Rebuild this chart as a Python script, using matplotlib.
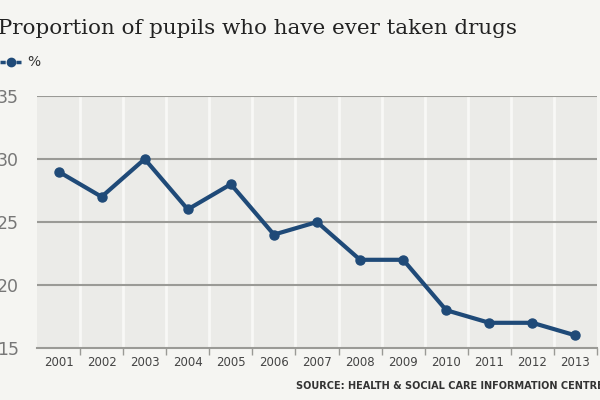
import matplotlib.pyplot as plt
import numpy as np

years = ['2001', '2002', '2003', '2004', '2005', '2006', '2007',
         '2008', '2009', '2010', '2011', '2012', '2013']
percent = [29, 27, 30, 26, 28, 24, 25, 22, 22, 18, 17, 17, 16]
y_ticks = [15, 20, 25, 30, 35]

title = 'Proportion of pupils who have ever taken drugs'
source = 'SOURCE: HEALTH & SOCIAL CARE INFORMATION CENTRE'

bg = '#f5f5f2'
col_bg = '#ebebe8'
blue = '#1f4a78'

fig = plt.figure(figsize=(6, 4), dpi=100, facecolor=bg)
ax = fig.add_axes([37 / 600, 52 / 400, 560 / 600, 252 / 400])
ax.set_facecolor(col_bg)

x = np.arange(len(years))
ax.set_xlim(-0.5, len(years) - 0.5)
ax.set_ylim(15, 35)

# white separators between the year columns
for b in np.arange(0.5, len(years) - 0.5, 1):
    ax.axvline(b, color='#f8f8f6', lw=2, zorder=1)

# horizontal gridlines
for t in y_ticks[1:]:
    ax.axhline(t, color='#9a9a96', lw=1.5, zorder=2)

ax.plot(x, percent, color=blue, lw=3, marker='o', markersize=6.5,
        zorder=4, clip_on=False)

for s in ['top', 'right', 'left']:
    ax.spines[s].set_visible(False)
ax.spines['bottom'].set_color('#9a9a96')
ax.spines['bottom'].set_linewidth(1.5)

ax.set_xticks(x)
ax.set_xticklabels(years, fontsize=8.5, color='#444444', family='DejaVu Sans')
ax.tick_params(axis='x', length=0, pad=6)
ax.set_xticks(np.arange(0.5, len(years), 1), minor=True)
ax.tick_params(axis='x', which='minor', length=5, width=1, color='#9a9a96',
               direction='out')

ax.set_yticks(y_ticks)
ax.set_yticklabels([str(t) for t in y_ticks], fontsize=12.5, color='#777777')
ax.tick_params(axis='y', length=0, pad=13)

fig.text(-0.003, 0.93, title, fontsize=15.4, family='DejaVu Serif',
         color='#222222', va='center', ha='left')

# legend
fig.add_artist(plt.Line2D([0.0, 0.035], [0.845, 0.845], color=blue, lw=2.5,
                          ls=(0, (1.5, 0.8)), transform=fig.transFigure))
fig.add_artist(plt.Line2D([0.018], [0.845], color=blue, marker='o',
                          markersize=6, transform=fig.transFigure))
fig.text(0.046, 0.845, '%', fontsize=10, color='#333333', va='center')

fig.text(0.494, 0.035, source, fontsize=7, fontweight='bold',
         color='#333333', va='center', ha='left')

fig.savefig('out.png', dpi=100, facecolor=bg)
